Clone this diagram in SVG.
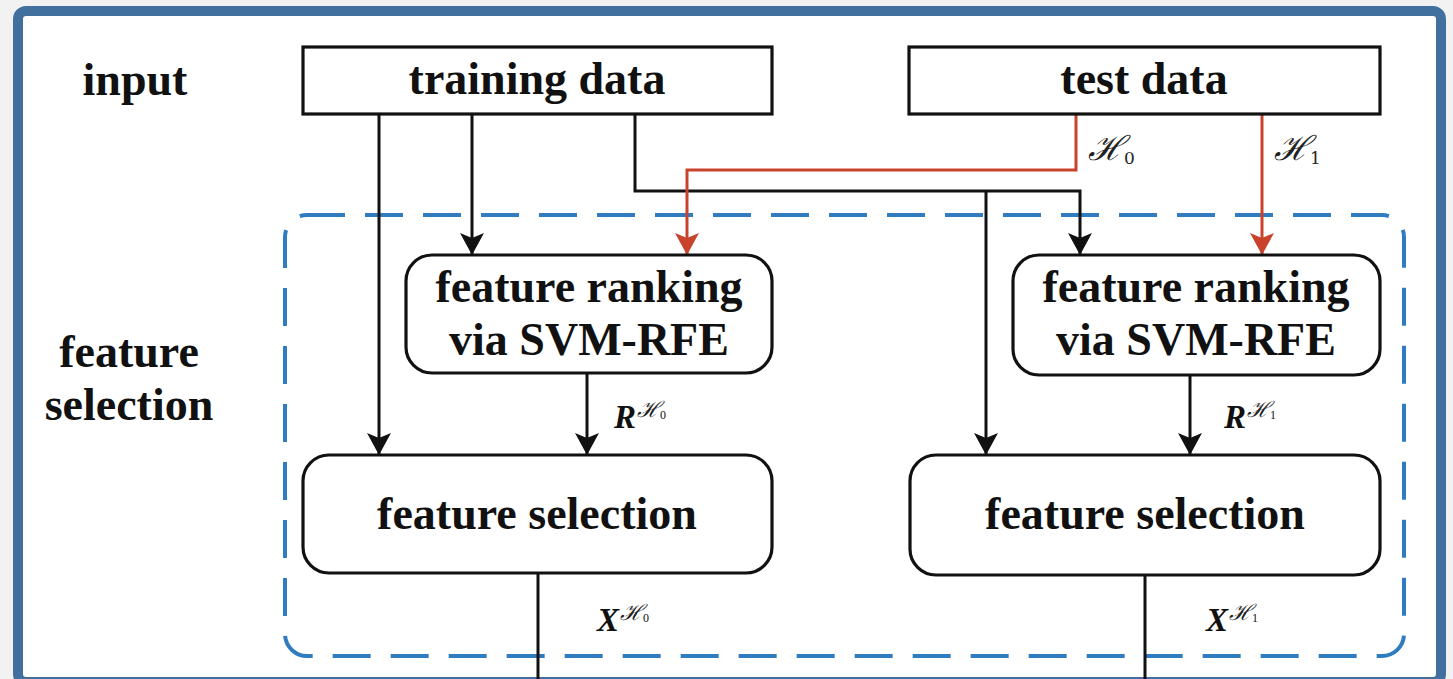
<svg xmlns="http://www.w3.org/2000/svg" width="1453" height="679" viewBox="0 0 1453 679">
<defs>
<style>
.box{fill:#fff;stroke:#111;stroke-width:3.2}
.lbl{font-family:"Liberation Serif","Times New Roman",serif;font-weight:bold;font-size:46px;fill:#111;text-anchor:middle}
.math{font-family:"DejaVu Serif","Liberation Serif",serif;font-style:italic;fill:#222}
.mb{font-family:"Liberation Serif","Times New Roman",serif;font-style:italic;font-weight:bold;font-size:33px;fill:#111}
.k{fill:none;stroke:#111;stroke-width:3}
.r{fill:none;stroke:#c9432c;stroke-width:3}
</style>
<marker id="ak" markerUnits="userSpaceOnUse" markerWidth="26" markerHeight="26" viewBox="0 -13 24 26" refX="22" refY="0" orient="auto">
<path d="M0,-12 L22,0 L0,12 L5,0 Z" fill="#111"/>
</marker>
<marker id="ar" markerUnits="userSpaceOnUse" markerWidth="26" markerHeight="26" viewBox="0 -13 24 26" refX="22" refY="0" orient="auto">
<path d="M0,-12 L22,0 L0,12 L5,0 Z" fill="#c9432c"/>
</marker>
</defs>
<rect x="0" y="0" width="1453" height="679" fill="#f2f2f2"/>
<rect id="frame" x="18" y="11" width="1423" height="671" rx="8" fill="#fff" stroke="#41709e" stroke-width="10"/>
<rect id="fs-region" x="285" y="215" width="1119" height="441" rx="22" fill="none" stroke="#2f7cc0" stroke-width="4" stroke-dasharray="38 20"/>

<g id="connectors">
<path class="k" d="M379,114 V455" marker-end="url(#ak)"/>
<path class="k" d="M472,114 V255" marker-end="url(#ak)"/>
<path class="k" d="M635,114 V191 H1080 V255" marker-end="url(#ak)"/>
<path class="k" d="M986,191 V455" marker-end="url(#ak)"/>
<path class="r" d="M1076,114 V170 H687 V255" marker-end="url(#ar)"/>
<path class="r" d="M1262,114 V255" marker-end="url(#ar)"/>
<path class="k" d="M587,373 V455" marker-end="url(#ak)"/>
<path class="k" d="M1190,375 V455" marker-end="url(#ak)"/>
<path class="k" d="M538,573 V682"/>
<path class="k" d="M1145,575 V682"/>
<text class="math" x="1088" y="160" font-size="34">ℋ<tspan font-size="17" font-style="normal" dy="4">0</tspan></text>
<text class="math" x="1274" y="160" font-size="34">ℋ<tspan font-size="17" font-style="normal" dy="4">1</tspan></text>
<text class="mb" x="614" y="428">R<tspan class="math" font-weight="normal" font-size="22" dx="1" dy="-11">ℋ</tspan><tspan font-weight="normal" font-style="normal" font-size="12" dy="2">0</tspan></text>
<text class="mb" x="1224" y="428">R<tspan class="math" font-weight="normal" font-size="22" dx="1" dy="-11">ℋ</tspan><tspan font-weight="normal" font-style="normal" font-size="12" dy="2">1</tspan></text>
<text class="mb" x="597" y="631">X<tspan class="math" font-weight="normal" font-size="22" dx="1" dy="-11">ℋ</tspan><tspan font-weight="normal" font-style="normal" font-size="12" dy="2">0</tspan></text>
<text class="mb" x="1206" y="631">X<tspan class="math" font-weight="normal" font-size="22" dx="1" dy="-11">ℋ</tspan><tspan font-weight="normal" font-style="normal" font-size="12" dy="2">1</tspan></text>
</g>

<g id="label-input"><text class="lbl" x="135" y="95">input</text></g>
<g id="label-fs"><text class="lbl" x="129" y="367">feature</text><text class="lbl" x="129" y="420">selection</text></g>

<g id="training-data">
<rect class="box" x="303" y="47" width="469" height="67"/>
<text class="lbl" x="537" y="94">training data</text>
</g>
<g id="test-data">
<rect class="box" x="909" y="47" width="471" height="67"/>
<text class="lbl" x="1144" y="94">test data</text>
</g>
<g id="ranking-0">
<rect class="box" x="406" y="255" width="366" height="118" rx="26"/>
<text class="lbl" x="589" y="302">feature ranking</text>
<text class="lbl" x="589" y="355">via SVM-RFE</text>
</g>
<g id="ranking-1">
<rect class="box" x="1013" y="255" width="367" height="120" rx="26"/>
<text class="lbl" x="1196" y="302">feature ranking</text>
<text class="lbl" x="1196" y="355">via SVM-RFE</text>
</g>
<g id="selection-0">
<rect class="box" x="303" y="455" width="469" height="118" rx="26"/>
<text class="lbl" x="537" y="529">feature selection</text>
</g>
<g id="selection-1">
<rect class="box" x="910" y="455" width="470" height="120" rx="26"/>
<text class="lbl" x="1145" y="529">feature selection</text>
</g>
</svg>
